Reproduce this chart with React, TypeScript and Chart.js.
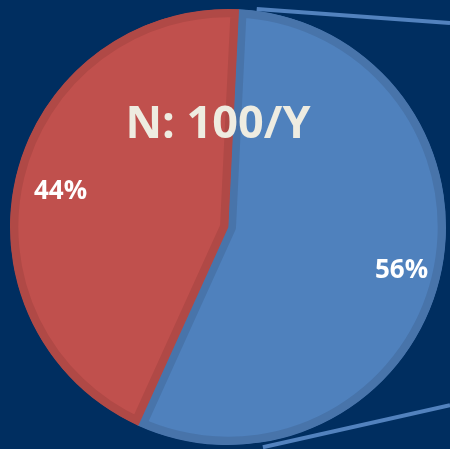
import React, { useEffect, useRef } from "react";
import { Chart, registerables } from "chart.js";

Chart.register(...registerables);

const categories = ["Blue", "Red"];
const values = [56, 44];
const sliceLabels = ["56%", "44%"];
const titleText = "N: 100/Y";

const BG = "#002e60";
const FILL = ["#4f81bd", "#c0504d"];
const BORDER = ["#4874aa", "#b04946"];
const LABEL_SHIFT = [
  [4, 3],
  [2, 6],
];

const overlayPlugin = {
  id: "overlay",
  afterDatasetsDraw(chart: any) {
    const ctx = chart.ctx;
    const meta = chart.getDatasetMeta(0);
    const arc0 = meta.data[0] as any;
    const cx = arc0.x;
    const cy = arc0.y;
    const r = arc0.outerRadius;
    // connector lines (pie-of-pie style)
    const conn = [
      { ang: 7.5, off: 0, slope: 0.0725 },
      { ang: 171, off: 3, slope: -0.225 },
    ];
    ctx.save();
    ctx.strokeStyle = "#5282be";
    ctx.lineWidth = 4;
    conn.forEach((c) => {
      const a = (c.ang * Math.PI) / 180;
      const sx = cx + (r + 2 + c.off) * Math.sin(a);
      const sy = cy - (r + 2 + c.off) * Math.cos(a);
      const ex = chart.width;
      const ey = sy + (ex - sx) * c.slope;
      ctx.beginPath();
      ctx.moveTo(sx, sy);
      ctx.lineTo(ex, ey);
      ctx.stroke();
    });
    // slice labels
    ctx.fillStyle = "#ffffff";
    ctx.font = "bold 26px 'Open Sans', sans-serif";
    ctx.textAlign = "center";
    ctx.textBaseline = "middle";
    meta.data.forEach((el: any, i: number) => {
      const mid = (el.startAngle + el.endAngle) / 2;
      const rr = el.outerRadius * 0.8;
      ctx.fillText(
        sliceLabels[i],
        cx + rr * Math.cos(mid) + LABEL_SHIFT[i][0],
        cy + rr * Math.sin(mid) + LABEL_SHIFT[i][1]
      );
    });
    // title
    ctx.fillStyle = "#eeece1";
    ctx.font = "bold 45px 'Open Sans', sans-serif";
    ctx.fillText(titleText, cx - 10, cy - 102);
    ctx.restore();
  },
};

export default function App() {
  const ref = useRef<HTMLCanvasElement>(null);
  useEffect(() => {
    document.body.style.margin = "0";
    const chart = new Chart(ref.current!, {
      type: "pie",
      data: {
        labels: categories,
        datasets: [
          {
            data: values,
            backgroundColor: FILL,
            borderColor: BORDER,
            borderWidth: 8,
            borderAlign: "inner",
          } as any,
        ],
      },
      options: {
        animation: false,
        responsive: false,
        rotation: 2.8,
        layout: { padding: { left: 10, right: 4, top: 9, bottom: 4 } },
        plugins: {
          legend: { display: false },
          tooltip: { enabled: false },
        },
      },
      plugins: [overlayPlugin],
    });
    return () => chart.destroy();
  }, []);
  return (
    <div style={{ width: 450, height: 449, background: BG }}>
      <canvas ref={ref} width={450} height={449} style={{ display: "block" }} />
    </div>
  );
}
